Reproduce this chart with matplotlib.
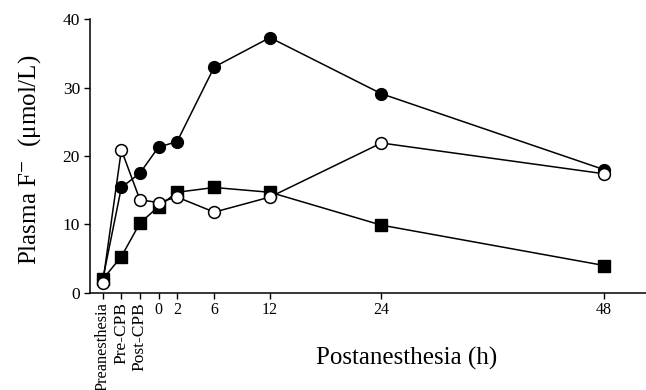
import matplotlib
matplotlib.use("Agg")
import matplotlib.pyplot as plt

# Data
tick_labels = ["Preanesthesia", "Pre-CPB", "Post-CPB", "0", "2", "6", "12", "24", "48"]
x_hours = [-6, -4, -2, 0, 2, 6, 12, 24, 48]
filled_circles = [2.0, 15.4, 17.5, 21.3, 22.1, 33.0, 37.3, 29.1, 18.0]
open_circles = [1.5, 20.9, 13.6, 13.2, 14.0, 11.8, 14.0, 21.9, 17.4]
filled_squares = [2.0, 5.3, 10.2, 12.6, 14.7, 15.4, 14.7, 9.9, 4.0]
y_ticks = [0, 10, 20, 30, 40]

plt.rcParams['font.family'] = ['Liberation Serif', 'DejaVu Serif']
plt.rcParams['mathtext.fontset'] = 'stix'

fig = plt.figure(figsize=(6.46, 3.90), dpi=100)
ax = fig.add_axes([0.139, 0.249, 0.861, 0.702])

lw = 1.1
ax.plot(x_hours, filled_circles, color='black', lw=lw, marker='o', ms=8.5,
        mfc='black', mec='black', zorder=3, clip_on=False)
ax.plot(x_hours, filled_squares, color='black', lw=lw, marker='s', ms=8,
        mfc='black', mec='black', zorder=3, clip_on=False)
ax.plot(x_hours, open_circles, color='black', lw=lw, marker='o', ms=8.5,
        mfc='white', mec='black', mew=1.1, zorder=4, clip_on=False)

ax.set_xlim(-7.4, 52.5)
ax.set_ylim(0, 40)
ax.set_yticks(y_ticks)
ax.set_xticks(x_hours)
ax.set_xticklabels(tick_labels)
ax.tick_params(axis='both', direction='out', length=4, width=1, colors='black')
ax.tick_params(axis='x', pad=2.5, labelsize=11.5)
ax.tick_params(axis='y', pad=3, labelsize=12.5)
for i, lab in enumerate(ax.get_xticklabels()[:3]):
    lab.set_rotation(90)
    lab.set_va('top')
    lab.set_fontsize(11.8 if i == 0 else 12.5)

for s in ['top', 'right']:
    ax.spines[s].set_visible(False)
for s in ['left', 'bottom']:
    ax.spines[s].set_linewidth(1.1)

fig.text(0.046, 0.59, "Plasma F$^{-}$  (\u03bcmol/L)", rotation=90, ha='center', va='center', fontsize=18)
fig.text(0.630, 0.082, "Postanesthesia (h)", ha='center', va='center', fontsize=18)

fig.savefig("out.png", dpi=100)
